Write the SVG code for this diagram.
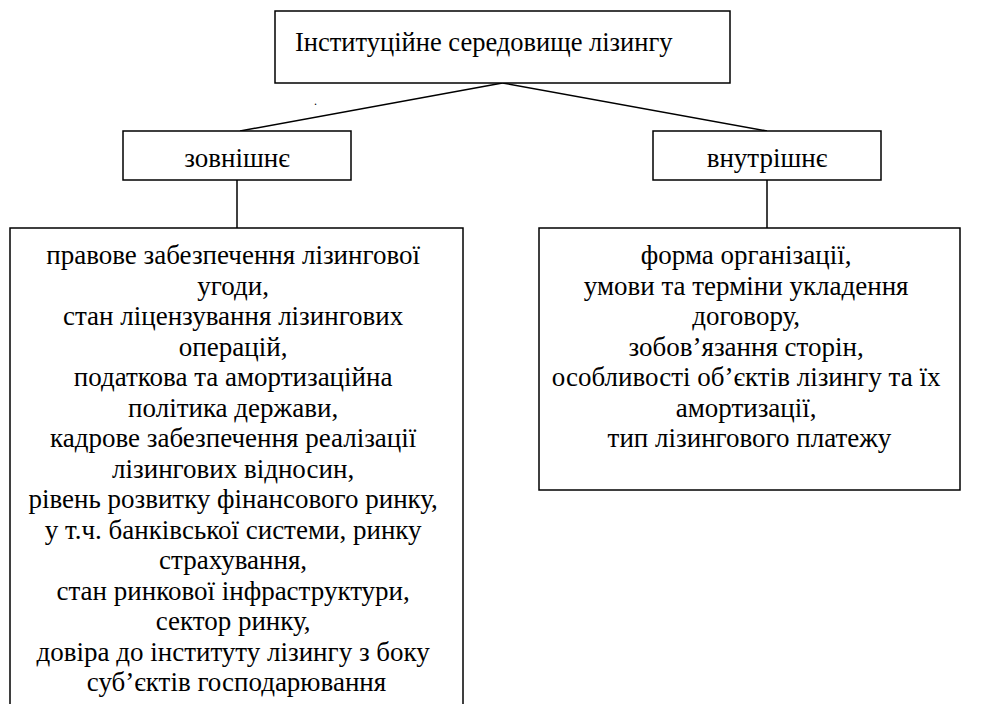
<svg xmlns="http://www.w3.org/2000/svg" width="984" height="704" viewBox="0 0 984 704">
<style>
.box{fill:#fff;stroke:#000;stroke-width:1.5}
.ln{stroke:#000;stroke-width:1.5;fill:none}
text{font-family:"Liberation Serif","Times New Roman",serif;font-size:27px;fill:#000}
.c{text-anchor:middle}
</style>
<rect width="984" height="704" fill="#fff"/>
<g id="connectors">
<line class="ln" x1="502.5" y1="83" x2="240" y2="131"/>
<line class="ln" x1="502.5" y1="83" x2="767" y2="131"/>
<line class="ln" x1="237" y1="180" x2="237" y2="228"/>
<line class="ln" x1="767" y1="180" x2="767" y2="228"/>
</g>
<g id="root">
<rect class="box" x="275" y="11" width="455" height="72"/>
<text x="295" y="51" style="font-size:26.5px">Інституційне середовище лізингу</text>
</g>
<text x="314" y="105" style="font-size:12px">.</text>
<g id="external">
<rect class="box" x="123" y="131" width="228" height="49"/>
<text class="c" x="237" y="167">зовнішнє</text>
</g>
<g id="internal">
<rect class="box" x="653" y="131" width="228" height="49"/>
<text class="c" x="767" y="167">внутрішнє</text>
</g>
<g id="external-factors">
<rect class="box" x="10" y="228" width="453" height="480"/>
<text class="c" x="236.5" y="264">
<tspan x="236.5" y="264">правове забезпечення лізингової</tspan>
<tspan x="236.5" y="294.5">угоди,</tspan>
<tspan x="236.5" y="325">стан ліцензування лізингових</tspan>
<tspan x="236.5" y="355.5">операцій,</tspan>
<tspan x="236.5" y="386">податкова та амортизаційна</tspan>
<tspan x="236.5" y="416.5">політика держави,</tspan>
<tspan x="236.5" y="447">кадрове забезпечення реалізації</tspan>
<tspan x="236.5" y="477.5">лізингових відносин,</tspan>
<tspan x="236.5" y="508">рівень розвитку фінансового ринку,</tspan>
<tspan x="236.5" y="538.5">у т.ч. банківської системи, ринку</tspan>
<tspan x="236.5" y="569">страхування,</tspan>
<tspan x="236.5" y="599.5">стан ринкової інфраструктури,</tspan>
<tspan x="236.5" y="630">сектор ринку,</tspan>
<tspan x="236.5" y="660.5">довіра до інституту лізингу з боку</tspan>
<tspan x="236.5" y="691">суб’єктів господарювання</tspan>
</text>
</g>
<g id="internal-factors">
<rect class="box" x="539" y="228" width="421" height="262"/>
<text class="c" x="749.5" y="264">
<tspan x="749.5" y="264">форма організації,</tspan>
<tspan x="749.5" y="294.5">умови та терміни укладення</tspan>
<tspan x="749.5" y="325">договору,</tspan>
<tspan x="749.5" y="355.5">зобов’язання сторін,</tspan>
<tspan x="749.5" y="386">особливості об’єктів лізингу та їх</tspan>
<tspan x="749.5" y="416.5">амортизації,</tspan>
<tspan x="749.5" y="447">тип лізингового платежу</tspan>
</text>
</g>
</svg>
